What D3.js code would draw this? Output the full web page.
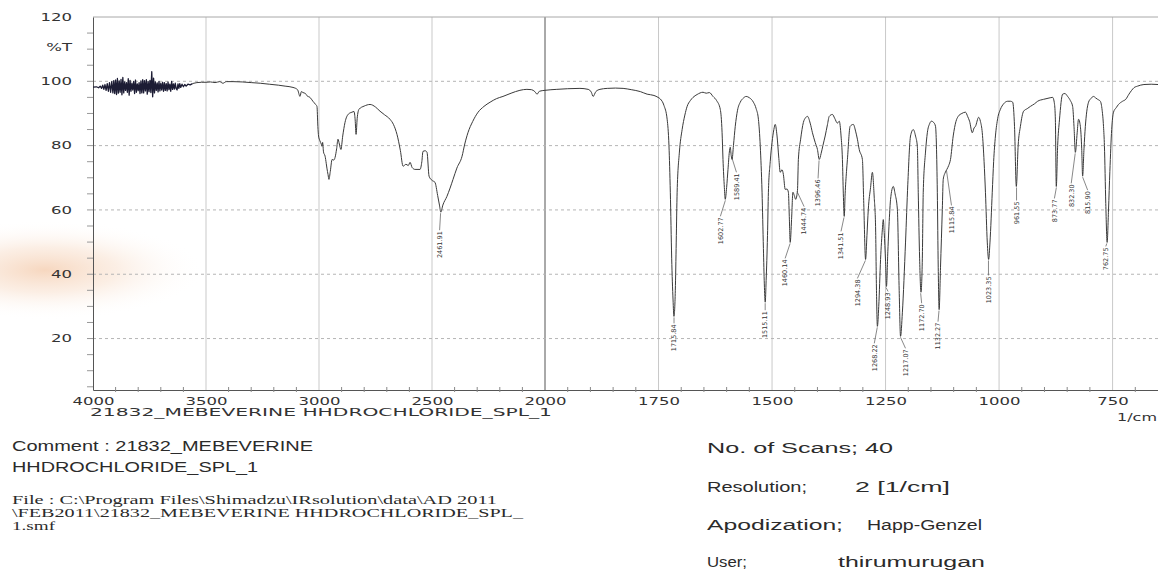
<!DOCTYPE html>
<html lang="en">
<head>
<meta charset="UTF-8">
<title>21832_MEBEVERINE HHDROCHLORIDE_SPL_1</title>
<script src="https://cdnjs.cloudflare.com/ajax/libs/d3/7.8.5/d3.min.js"></script>
<style>
  html, body { margin: 0; padding: 0; background: #fff; }
  svg { display: block; }
</style>
</head>
<body>
<svg id="chart" width="1158" height="571"></svg>
<script>
// ---- data: [wavenumber (1/cm), %T] ----
const noiseBand = [
  [4000,98.2],[3985,98.3],[3975,98.0],[3968,98.5],[3962,97.8],[3957,98.8],[3952,97.5],[3947,99.0],
  [3942,97.2],[3937,99.3],[3932,96.9],[3927,99.6],[3922,96.6],[3917,99.9],[3912,96.4],[3908,100.2],
  [3904,96.2],[3900,100.4],[3896,95.9],[3892,100.9],[3888,96.3],[3884,100.1],[3880,96.6],[3876,100.6],
  [3872,95.8],[3868,101.2],[3864,96.4],[3860,99.8],[3856,97.2],[3852,99.6],[3848,96.6],[3844,100.8],
  [3840,95.7],[3836,100.3],[3832,96.9],[3828,99.4],[3824,97.3],[3820,100.0],[3816,96.2],[3812,100.4],
  [3808,96.6],[3804,99.2],[3800,97.1],[3796,99.6],[3792,96.2],[3788,100.1],[3784,96.4],[3780,100.5],
  [3776,96.4],[3772,100.2],[3768,97.0],[3764,100.5],[3760,96.0],[3756,99.9],[3752,96.8],[3748,100.3],
  [3744,96.5],[3740,103.0],[3736,95.2],[3732,101.0],[3728,96.4],[3724,99.8],[3720,97.2],[3716,99.5],
  [3712,96.7],[3708,100.0],[3704,97.0],[3700,99.4],[3696,97.3],[3692,99.7],[3688,96.9],[3684,99.6],
  [3680,97.2],[3676,99.3],[3672,97.0],[3668,99.8],[3664,97.4],[3660,99.1],[3656,96.9],[3652,100.0],
  [3648,97.5],[3644,99.2],[3640,97.6],[3636,99.4],[3632,97.7],[3628,97.3],[3624,99.2],[3620,97.8],
  [3616,99.3],[3612,98.1],[3606,99.1],[3600,98.3],[3594,99.0],[3588,98.5],[3580,99.1],[3570,98.9],
  [3560,99.3]
];
const spectrumLeft = [
  [3560,99.3],[3540,99.6],[3520,99.7],[3500,99.7],[3480,99.8],[3460,99.6],[3440,99.9],[3425,99.4],
  [3410,99.9],[3380,99.9],[3340,99.8],[3300,99.6],[3260,99.4],[3220,99.1],[3180,98.8],[3150,98.5],
  [3115,98.1],[3095,97.4],[3084,95.3],[3078,96.8],[3071,96.5],[3060,96.2],[3053,95.5],[3040,95.0],
  [3027,93.8],[3015,92.8],[3009,92.2],[3005,86.0],[3002,83.0],[2996,81.5],[2990,80.5],[2987,79.8],
  [2984,81.0],[2980,78.0],[2973,76.7],[2968,74.5],[2965,73.0],[2960,71.0],[2956,69.5],[2950,72.0],
  [2942,75.7],[2935,75.5],[2929,76.3],[2922,79.0],[2916,82.0],[2910,80.5],[2903,78.8],[2895,83.0],
  [2885,87.2],[2870,89.8],[2854,90.4],[2845,90.6],[2840,88.0],[2836,83.5],[2831,88.5],[2823,91.3],
  [2800,92.3],[2774,92.8],[2750,92.0],[2730,90.7],[2710,89.6],[2686,88.2],[2670,86.5],[2655,83.5],
  [2640,78.5],[2628,73.6],[2615,74.2],[2605,73.8],[2597,74.8],[2588,73.2],[2575,72.6],[2553,72.6],
  [2545,75.0],[2540,78.2],[2530,78.4],[2522,77.9],[2513,70.5],[2500,69.2],[2487,68.6],[2475,64.5],
  [2467,61.5],[2461,59.3],[2452,61.5],[2434,64.2],[2420,66.8],[2407,69.5],[2390,73.0],[2367,76.7],
  [2355,80.5],[2341,84.0],[2320,87.5],[2296,90.4],[2270,92.2],[2243,93.5],[2215,94.6],[2186,95.3],
  [2150,96.3],[2111,97.2],[2080,97.5],[2060,97.4],[2045,96.8],[2035,96.0],[2025,96.9]
];
const spectrumRight = [
  [2000,97.2],[1974,97.5],[1950,97.7],[1923,97.8],[1905,97.5],[1898,96.6],[1894,95.3],[1888,96.8],
  [1879,97.5],[1863,97.8],[1845,97.9],[1828,97.8],[1810,97.4],[1790,96.8],[1775,96.0],[1760,95.6],
  [1751,95.0],[1746,94.5],[1738,92.5],[1731,88.2],[1727,80.0],[1724,65.5],[1721,45.0],[1718,32.0],
  [1716,26.9],[1713,35.0],[1711,50.0],[1709,65.5],[1704,78.0],[1698,85.0],[1692,89.5],[1687,92.2],
  [1680,94.0],[1674,95.0],[1665,95.9],[1652,96.6],[1645,96.3],[1638,96.5],[1630,95.3],[1622,94.0],
  [1614,91.3],[1610,84.0],[1608,75.7],[1605,67.0],[1603,63.3],[1600,67.0],[1597,72.6],[1594,78.0],
  [1592,79.5],[1590,77.0],[1588,75.7],[1585,80.0],[1581,86.0],[1576,91.0],[1570,93.5],[1563,94.8],
  [1557,95.3],[1550,94.9],[1541,93.5],[1535,91.5],[1530,88.2],[1526,80.0],[1522,65.5],[1519,48.0],
  [1517,37.0],[1515,31.3],[1513,38.0],[1510,52.0],[1508,65.5],[1504,75.0],[1500,81.0],[1496,85.0],
  [1493,86.6],[1489,83.0],[1485,76.0],[1482,71.7],[1478,72.5],[1475,71.0],[1471,66.4],[1467,66.5],
  [1464,65.5],[1462,58.0],[1460,49.9],[1457,57.0],[1454,65.5],[1451,64.5],[1448,63.3],[1444,66.0],
  [1442,75.7],[1437,82.0],[1431,87.2],[1426,88.7],[1422,89.1],[1416,87.0],[1411,84.0],[1405,81.0],
  [1400,78.8],[1396,75.7],[1392,77.5],[1388,80.0],[1383,83.0],[1378,86.5],[1374,89.1],[1367,89.7],
  [1362,88.5],[1356,87.0],[1352,87.6],[1348,83.0],[1345,75.7],[1343,65.0],[1341,58.0],[1339,65.0],
  [1336,72.0],[1334,75.7],[1328,86.0],[1321,86.6],[1316,84.5],[1312,82.0],[1308,78.8],[1301,75.7],
  [1298,62.0],[1294,44.6],[1291,52.0],[1288,60.2],[1283,67.0],[1279,71.7],[1275,64.0],[1272,54.9],
  [1270,35.0],[1268,23.8],[1265,30.0],[1261,44.6],[1257,54.0],[1255,57.0],[1253,53.0],[1250,44.0],
  [1248,36.2],[1245,47.0],[1241,59.0],[1239,63.3],[1233,67.3],[1229,65.0],[1224,60.2],[1220,35.0],
  [1217,20.7],[1213,28.0],[1206,50.0],[1201,68.0],[1195,83.0],[1189,85.0],[1184,83.0],[1180,79.8],
  [1178,65.5],[1175,45.0],[1172,34.4],[1169,45.0],[1167,65.5],[1162,78.0],[1158,84.0],[1153,86.8],
  [1149,87.6],[1144,87.2],[1140,86.0],[1136,65.5],[1134,42.0],[1132,29.0],[1129,42.0],[1125,60.2],
  [1123,69.5],[1119,71.5],[1115,72.6],[1111,73.8],[1107,75.7],[1101,83.0],[1095,87.5],[1090,89.1],
  [1082,90.0],[1074,90.4],[1069,89.0],[1065,87.6],[1059,84.0],[1055,85.5],[1052,86.0],[1045,88.8],
  [1041,87.5],[1037,84.0],[1033,75.0],[1030,65.5],[1026,50.0],[1023,44.6],[1020,50.0],[1015,65.5],
  [1012,75.0],[1008,83.0],[1003,88.5],[997,91.3],[990,93.0],[981,93.8],[975,93.8],[970,93.5],
  [966,86.0],[962,67.3],[958,80.0],[953,86.0],[946,90.7],[938,91.5],[931,92.2],[922,93.0],
  [915,93.8],[902,94.4],[890,94.8],[882,95.0],[878,93.0],[876,88.0],[874,67.3],[871,80.0],
  [867,88.0],[860,96.0],[855,96.2],[849,95.3],[843,94.0],[838,92.2],[835,86.0],[832,77.9],
  [828,84.0],[825,88.2],[821,86.0],[818,79.0],[816,70.5],[813,79.0],[810,86.0],[807,90.5],
  [803,93.5],[798,94.6],[792,95.3],[787,94.8],[783,94.4],[777,93.8],[773,91.0],[770,86.0],
  [768,80.0],[765,62.0],[762,49.9],[759,60.0],[756,72.0],[752,85.0],[748,90.4],[742,91.8],
  [737,92.8],[728,93.8],[721,94.4],[714,96.0],[708,97.2],[703,98.0],[695,98.5],[681,99.0],
  [665,99.1],[650,99.0]
];
const peakLabels = ["2461.91","1715.84","1602.77","1589.41","1515.11","1460.14","1444.74","1396.46",
  "1341.51","1294.38","1268.22","1248.93","1217.07","1172.70","1132.27","1115.84","1023.35",
  "961.55","873.77","832.30","815.90","762.75"];
const xTicks = [4000, 3500, 3000, 2500, 2000, 1750, 1500, 1250, 1000, 750];
const yTicks = [20, 40, 60, 80, 100, 120];
const yGrid = [20, 40, 60, 80, 100];
const commentLines = ["Comment : 21832_MEBEVERINE", "HHDROCHLORIDE_SPL_1"];
const fileLines = ["File :  C:\\Program Files\\Shimadzu\\IRsolution\\data\\AD 2011",
  "\\FEB2011\\21832_MEBEVERINE HHDROCHLORIDE_SPL_", "1.smf"];
const infoKeys = ["No. of Scans; 40", "Resolution;", "Apodization;", "User;"];
const infoValues = ["", "2 [1/cm]", "Happ-Genzel", "thirumurugan"];

// label placement (px): [dx from peak, gap below peak]
const labelLayout = [[-1,19],[0,8],[-5,18],[5,18],[0,9],[-5,17],[7,17],[-1,20],[-3,16],[-8,20],
  [-3,18],[2,6],[5,13],[1,12],[-1,13],[5,37],[0,17],[0,15],[-2,13],[-4,32],[5,15],[-1,5]];

const svg = d3.select("#chart");
const spectrum = noiseBand.concat(spectrumLeft.slice(1), spectrumRight);

// Shimadzu style: 4000-2000 at half the scale of 2000-650
const x = d3.scaleLinear().domain([4000, 2000, 650]).range([93, 545, 1158]);
const y = d3.scaleLinear().domain([4, 120]).range([390, 17]);

// orange smudge from the scan
const defs = svg.append("defs");
const grad = defs.append("radialGradient").attr("id", "smudge");
grad.append("stop").attr("offset", "0%").attr("stop-color", "#f3c6a4").attr("stop-opacity", 0.7);
grad.append("stop").attr("offset", "45%").attr("stop-color", "#f7dac4").attr("stop-opacity", 0.45);
grad.append("stop").attr("offset", "100%").attr("stop-color", "#fff").attr("stop-opacity", 0);
svg.append("ellipse").attr("cx", 45).attr("cy", 270).attr("rx", 160).attr("ry", 50)
  .attr("fill", "url(#smudge)");

// grid
svg.append("g").selectAll("line").data(xTicks.slice(1)).join("line")
  .attr("x1", d => x(d)).attr("x2", d => x(d))
  .attr("y1", y(120)).attr("y2", y(4))
  .attr("stroke", d => d === 2000 ? "#555" : "#c9c9c9").attr("stroke-width", 1);
svg.append("g").selectAll("line").data(yGrid).join("line")
  .attr("x1", x(4000)).attr("x2", x(650))
  .attr("y1", d => y(d)).attr("y2", d => y(d))
  .attr("stroke", "#b5b5b5").attr("stroke-dasharray", "3,3");
svg.append("line").attr("x1", x(4000)).attr("x2", x(650))
  .attr("y1", y(120)).attr("y2", y(120)).attr("stroke", "#a8a8a8");

// axes
const gx = svg.append("g").attr("transform", `translate(0,${y(4)})`)
  .call(d3.axisBottom(x).tickValues(xTicks).tickSize(0).tickPadding(8).tickFormat(d3.format("d")));
gx.select(".domain").attr("stroke", "#555");
gx.selectAll("text").attr("font-family", "DejaVu Sans").attr("font-size", 10)
  .attr("fill", "#333").attr("transform", "scale(1.65,1)");

const minorX = d3.range(3900, 2000, -100).concat(d3.range(1950, 650, -50)).filter(d => !xTicks.includes(d));
svg.append("g").selectAll("line").data(minorX).join("line")
  .attr("x1", d => x(d)).attr("x2", d => x(d))
  .attr("y1", y(4) - 3).attr("y2", y(4) + 2).attr("stroke", "#888");

const gy = svg.append("g").attr("transform", `translate(${x(4000)},0)`)
  .call(d3.axisLeft(y).tickValues(yTicks).tickSize(0).tickPadding(0));
gy.select(".domain").attr("stroke", "#555");
gy.selectAll("text").attr("x", 0).attr("text-anchor", "end")
  .attr("font-family", "DejaVu Sans").attr("font-size", 10).attr("fill", "#333")
  .attr("transform", "translate(-21,0) scale(1.65,1)");

svg.append("g").selectAll("line").data(d3.range(5, 120, 5)).join("line")
  .attr("x1", x(4000) - 6).attr("x2", x(4000))
  .attr("y1", d => y(d)).attr("y2", d => y(d)).attr("stroke", "#999");

svg.append("text").attr("text-anchor", "end").attr("dy", "0.35em")
  .attr("transform", `translate(${x(4000) - 21},${y(110) - 2}) scale(1.65,1)`)
  .attr("font-family", "DejaVu Sans").attr("font-size", 10).attr("fill", "#333").text("%T");

svg.append("text").attr("x", 90).attr("y", 416)
  .attr("font-family", "DejaVu Sans").attr("font-size", 11).attr("fill", "#333")
  .attr("textLength", 462).attr("lengthAdjust", "spacingAndGlyphs")
  .text("21832_MEBEVERINE HHDROCHLORIDE_SPL_1");
svg.append("text").attr("x", 1157).attr("y", 421).attr("text-anchor", "end")
  .attr("font-family", "DejaVu Sans").attr("font-size", 10).attr("fill", "#333")
  .attr("textLength", 40).attr("lengthAdjust", "spacingAndGlyphs").text("1/cm");

// spectrum
const line = d3.line().x(d => x(d[0])).y(d => y(d[1])).curve(d3.curveMonotoneX);
svg.append("path").datum(spectrum.slice(noiseBand.length - 1)).attr("d", line)
  .attr("fill", "none").attr("stroke", "#3a3a3a").attr("stroke-width", 1)
  .attr("stroke-linejoin", "round");
svg.append("path").datum(noiseBand).attr("d", line.curve(d3.curveLinear))
  .attr("fill", "none").attr("stroke", "#1c1c34").attr("stroke-width", 1.3)
  .attr("stroke-linejoin", "round");

// peak labels
const nearestT = wn => spectrum.reduce((a, b) => Math.abs(b[0] - wn) < Math.abs(a[0] - wn) ? b : a)[1];
const peaks = peakLabels.map((lab, i) => {
  const wn = +lab, px = x(wn), py = y(nearestT(wn));
  return { lab, px, py, lx: px + labelLayout[i][0], top: py + labelLayout[i][1] };
});
const gp = svg.append("g");
gp.selectAll("line").data(peaks).join("line")
  .attr("x1", d => d.px).attr("y1", d => d.py + 1)
  .attr("x2", d => d.lx).attr("y2", d => d.top - 1)
  .attr("stroke", "#555").attr("stroke-width", 0.7);
gp.selectAll("text").data(peaks).join("text")
  .attr("transform", d => `translate(${d.lx},${d.top}) rotate(-90)`)
  .attr("text-anchor", "end").attr("dy", "0.35em")
  .attr("font-family", "DejaVu Sans").attr("font-size", 6.5).attr("fill", "#333")
  .text(d => d.lab);

// footer text
const sans = "Liberation Sans, Arial, sans-serif";
const serif = "Liberation Serif, Times New Roman, serif";
const commentLen = [301, 246];
const commentY = [451, 472];
svg.append("g").selectAll("text").data(commentLines).join("text")
  .attr("x", 12).attr("y", (d, i) => commentY[i])
  .attr("font-family", sans).attr("font-size", 14).attr("fill", "#2b2b2b")
  .attr("textLength", (d, i) => commentLen[i]).attr("lengthAdjust", "spacingAndGlyphs")
  .text(d => d);
const fileLen = [485, 511, 43];
const fileY = [504, 517, 530];
svg.append("g").selectAll("text").data(fileLines).join("text")
  .attr("x", 12).attr("y", (d, i) => fileY[i])
  .attr("font-family", serif).attr("font-size", 12).attr("fill", "#2b2b2b")
  .attr("textLength", (d, i) => fileLen[i]).attr("lengthAdjust", "spacingAndGlyphs")
  .text(d => d);

const infoY = [453, 492, 530, 567];
const keyLen = [186, 100, 136, 40];
const valX = [0, 855, 867, 838];
const valLen = [0, 95, 115, 147];
svg.append("g").selectAll("text").data(infoKeys).join("text")
  .attr("x", 707).attr("y", (d, i) => infoY[i])
  .attr("font-family", sans).attr("font-size", 14).attr("fill", "#2b2b2b")
  .attr("textLength", (d, i) => keyLen[i]).attr("lengthAdjust", "spacingAndGlyphs")
  .text(d => d);
svg.append("g").selectAll("text").data(infoValues.map((v, i) => ({ v, i })).filter(d => d.v)).join("text")
  .attr("x", d => valX[d.i]).attr("y", d => infoY[d.i])
  .attr("font-family", sans).attr("font-size", 14).attr("fill", "#2b2b2b")
  .attr("textLength", d => valLen[d.i]).attr("lengthAdjust", "spacingAndGlyphs")
  .text(d => d.v);
</script>
</body>
</html>
